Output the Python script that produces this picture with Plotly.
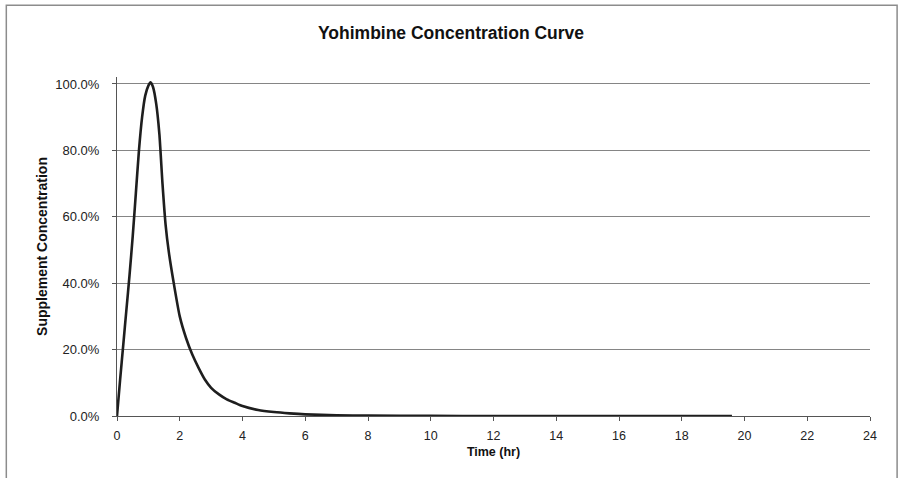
import plotly.graph_objects as go

# time after dose (hr) and relative concentration
time_hr = [0, 0.1, 0.2, 0.3, 0.4, 0.5, 0.6, 0.7, 0.8, 0.9, 1.0, 1.07, 1.15, 1.25,
           1.35, 1.45, 1.55, 1.65, 1.8, 2.0, 2.2, 2.4, 2.6, 2.8, 3.0, 3.25, 3.5,
           3.75, 4.0, 4.5, 5.0, 5.5, 6.0, 7.0, 8.0, 10, 12, 14, 16, 18, 19.6]
concentration = [0, 0.11, 0.215, 0.32, 0.425, 0.54, 0.67, 0.80, 0.90, 0.965, 0.995,
                 1.005, 0.99, 0.94, 0.85, 0.70, 0.575, 0.495, 0.405, 0.30, 0.235, 0.185,
                 0.145, 0.11, 0.085, 0.065, 0.05, 0.04, 0.03, 0.018, 0.012, 0.008,
                 0.005, 0.002, 0.001, 0.0003, 0.0001, 0, 0, 0, 0]

FONT = "Liberation Sans, Arial, sans-serif"

fig = go.Figure()
fig.add_trace(go.Scatter(x=time_hr, y=concentration, mode="lines",
                         line=dict(color="#1e1e1e", width=2.6, shape="spline", smoothing=0.6),
                         showlegend=False, cliponaxis=False))

# outer chart frame (Excel style)
fig.add_shape(type="rect", xref="paper", yref="paper",
              x0=-0.147, x1=1.036, y0=-0.2, y1=1.212,
              line=dict(color="#8c8c8c", width=1.5), fillcolor="rgba(0,0,0,0)", layer="below")

fig.update_layout(
    width=898, height=478,
    margin=dict(l=116.5, r=28, t=77, b=62),
    paper_bgcolor="white", plot_bgcolor="white",
    font=dict(family=FONT, color="#222222", size=12),
    title=dict(text="<b>Yohimbine Concentration Curve</b>", x=451 / 898, xref="container",
               y=1 - 33 / 478, yref="container", xanchor="center", yanchor="middle",
               font=dict(size=17.5, color="#111111")),
)
fig.update_xaxes(range=[0, 24], dtick=2, tick0=0, showgrid=False, zeroline=False,
                 showline=True, linecolor="#555555", linewidth=1, automargin=False,
                 ticks="outside", ticklen=4, tickcolor="#555555", ticklabelstandoff=4,
                 tickfont=dict(size=12.5, color="#222222"),
                 title=dict(text="<b>Time (hr)</b>", standoff=5, font=dict(size=12.5, color="#111111")))
fig.update_yaxes(range=[0, 1.021], dtick=0.2, tick0=0, tickformat=".1%",
                 showgrid=True, gridcolor="#858585", gridwidth=1, zeroline=False,
                 showline=True, linecolor="#555555", linewidth=1, automargin=False,
                 ticks="outside", ticklen=4, tickcolor="#555555", ticklabelstandoff=10,
                 tickfont=dict(size=13, color="#222222"),
                 title=dict(text="<b>Supplement Concentration</b>", standoff=4,
                            font=dict(size=14, color="#111111")))

# drop the default page margin so the figure sits at the window's corner
fig.write_html("out.html", config={"displayModeBar": False},
               post_script="document.body.style.margin='0px';")
